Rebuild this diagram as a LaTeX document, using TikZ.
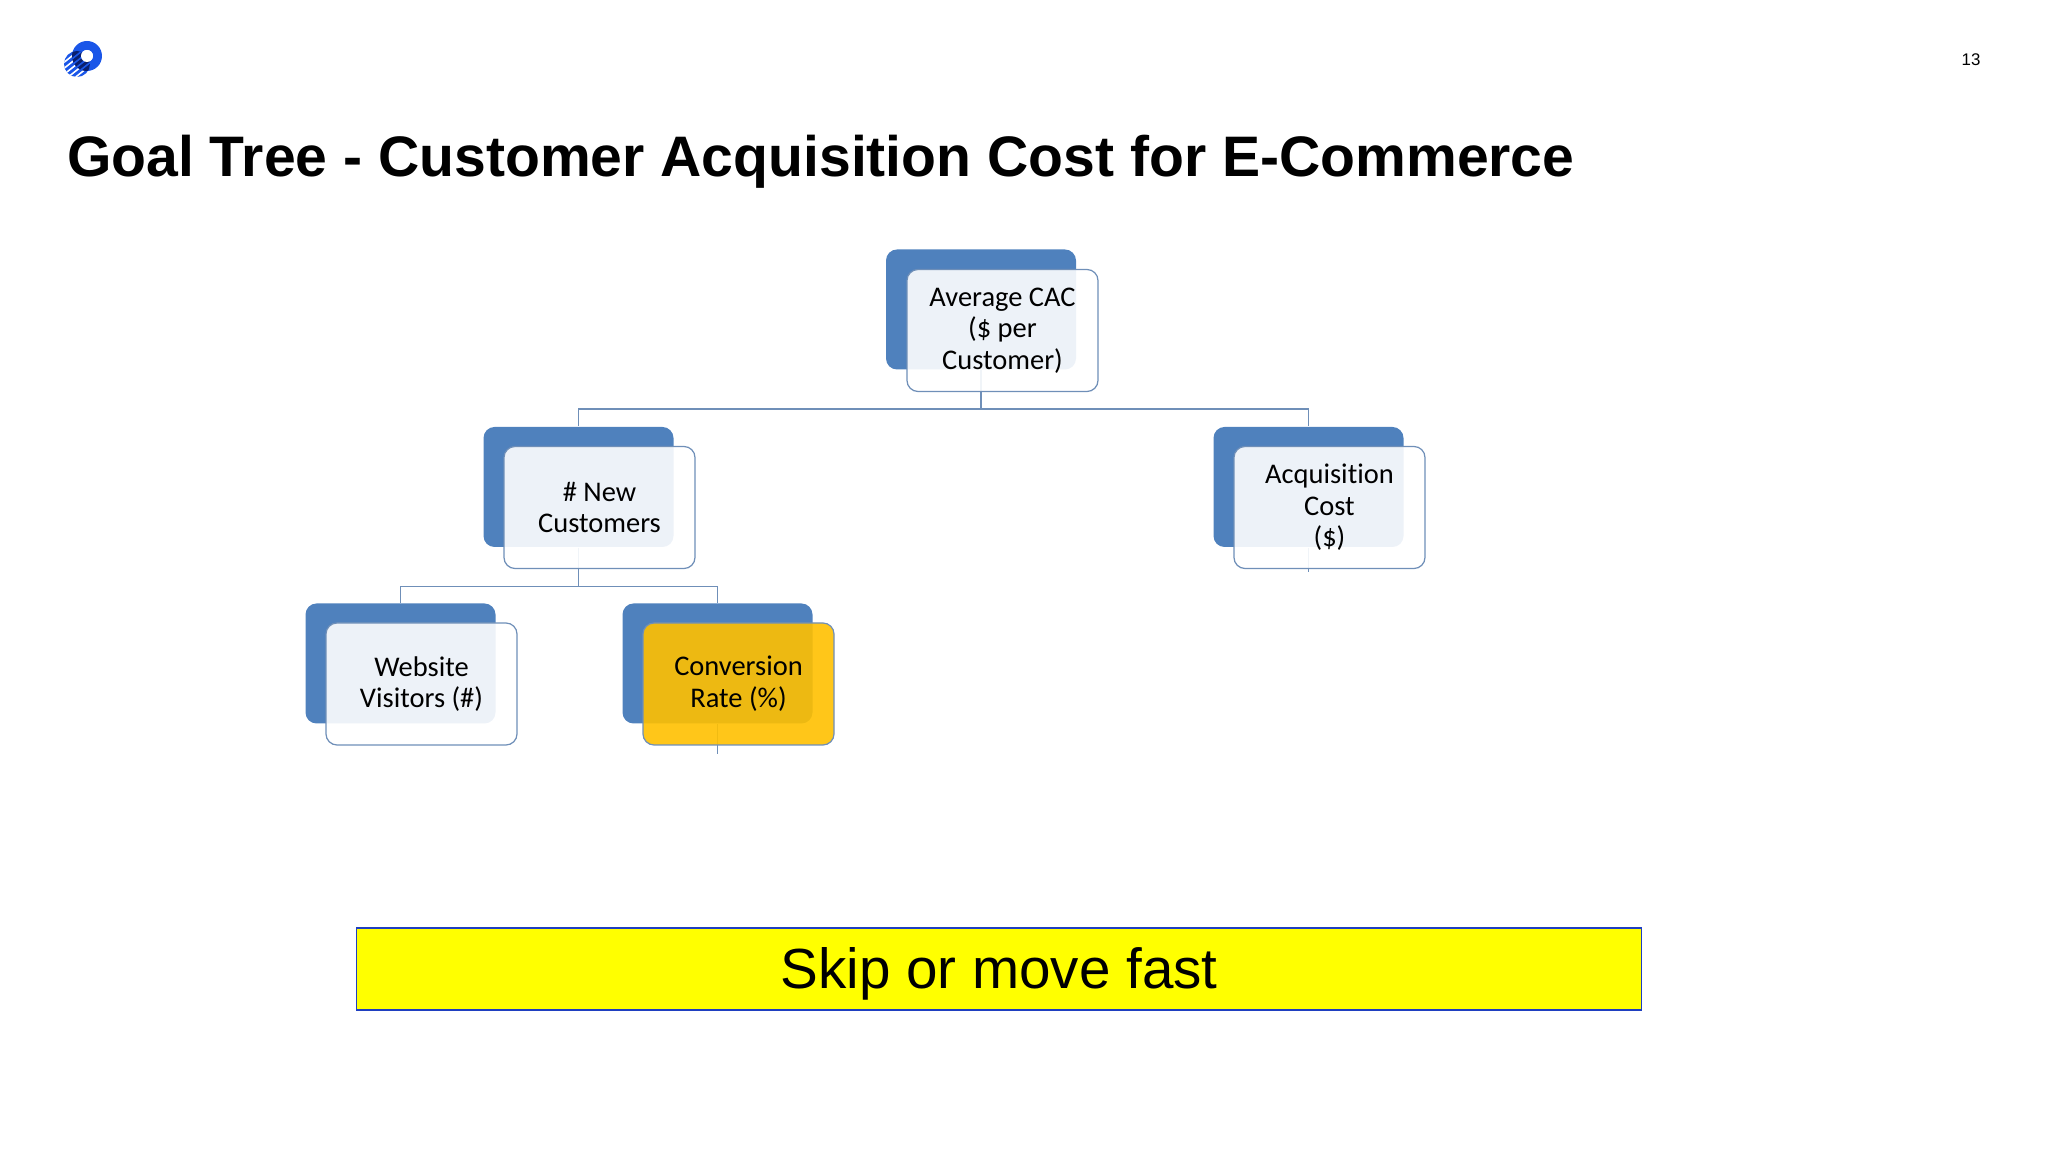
\documentclass[tikz,border=0pt]{standalone}
\usepackage{fontspec}
\setmainfont[Ligatures=NoCommon]{Carlito}
\newfontfamily\headfont{Liberation Sans}
\definecolor{backblue}{HTML}{4F81BD}
\definecolor{edgeblue}{HTML}{6F8FB8}
\definecolor{logoblue}{HTML}{1A56E8}
\definecolor{logonavy}{HTML}{0A1F6E}
\definecolor{hiorange}{HTML}{FFC000}
\definecolor{bannerblue}{HTML}{1F3FC0}
\definecolor{banneryellow}{HTML}{FFFF00}
\begin{document}
\begin{tikzpicture}
	\tikzset{
		backbox/.style = {rectangle, rounded corners=0.11cm, fill=backblue, minimum width=1.90cm, minimum height=1.20cm, inner sep=0pt},
		frontbox/.style = {rectangle, rounded corners=0.11cm, draw=edgeblue, line width=0.35pt, fill=white, fill opacity=0.9, text opacity=1, minimum width=1.91cm, minimum height=1.22cm, inner sep=0pt, align=center, font=\fontsize{8.1}{9}\selectfont},
		hibox/.style = {frontbox, fill=hiorange},
		treeline/.style = {-, edgeblue, line width=0.4pt},
		banner/.style = {rectangle, draw=bannerblue, line width=0.5pt, fill=banneryellow, minimum width=12.85cm, minimum height=0.82cm, inner sep=0pt, text height=0.515cm, text depth=0.12cm, font=\headfont\fontsize{16.1}{18}\selectfont},
	}
	\useasboundingbox (0,0) rectangle (20.48,11.52);
	% logo
	\begin{scope}
		\clip (0.77,10.88) circle (0.13);
		\fill[logoblue] (0.60,10.70) rectangle (0.95,11.05);
		\foreach \s in {-0.12,-0.06,0.0,0.06,0.12}
			\draw[white, line width=0.45pt] (0.57,10.88+\s-0.16) -- (0.97,10.88+\s+0.16);
	\end{scope}
	\fill[logoblue, even odd rule] (0.87,10.96) circle (0.15) (0.87,10.96) circle (0.06);
	\begin{scope}
		\clip (0.77,10.88) circle (0.13);
		\clip (0.87,10.96) circle (0.15);
		\fill[logonavy] (0.60,10.70) rectangle (0.95,11.05);
		\foreach \s in {-0.09,-0.03,0.03,0.09}
			\draw[logoblue, line width=0.45pt] (0.57,10.88+\s-0.16) -- (0.97,10.88+\s+0.16);
	\end{scope}
	\fill[white] (0.87,10.96) circle (0.06);
	%
	\node[anchor=base west, inner sep=0pt, font=\headfont\bfseries\fontsize{16.25}{18}\selectfont] at (0.665,9.75) (title) {Goal Tree - Customer Acquisition Cost for E-Commerce};
	\node[font=\headfont\fontsize{4.8}{6}\selectfont, inner sep=0pt] at (19.71,10.92) (pagenum) {13};
	%
	\node[backbox] at (9.81,8.425) (avgback) {};
	\node[backbox] at (5.785,6.65) (newback) {};
	\node[backbox] at (13.085,6.65) (acqback) {};
	\node[backbox] at (4.005,4.885) (webback) {};
	\node[backbox] at (7.175,4.885) (convback) {};
	%
	\coordinate (acqend) at (13.085,5.80);
	\coordinate (convend) at (7.175,3.98);
	\draw[treeline] (avgback.south) -- ++(0,-0.39) -| (newback.north);
	\draw[treeline] (avgback.south) -- ++(0,-0.39) -| (acqback.north);
	\draw[treeline] (newback.south) -- ++(0,-0.39) -| (webback.north);
	\draw[treeline] (newback.south) -- ++(0,-0.39) -| (convback.north);
	\draw[treeline] (acqback.south) -- (acqend);
	\draw[treeline] (convback.south) -- (convend);
	%
	\node[frontbox] at (10.025,8.215) (avg) {Average CAC\\(\$ per\\Customer)};
	\node[frontbox] at (5.995,6.445) (new) {\# New\\Customers};
	\node[frontbox] at (13.295,6.445) (acq) {Acquisition\\Cost\\(\$)};
	\node[frontbox] at (4.215,4.68) (web) {Website\\Visitors (\#)};
	\node[hibox] at (7.385,4.68) (conv) {Conversion\\Rate (\%)};
	%
	\node[banner] at (9.99,1.83) (skip) {Skip or move fast};
\end{tikzpicture}
\end{document}
